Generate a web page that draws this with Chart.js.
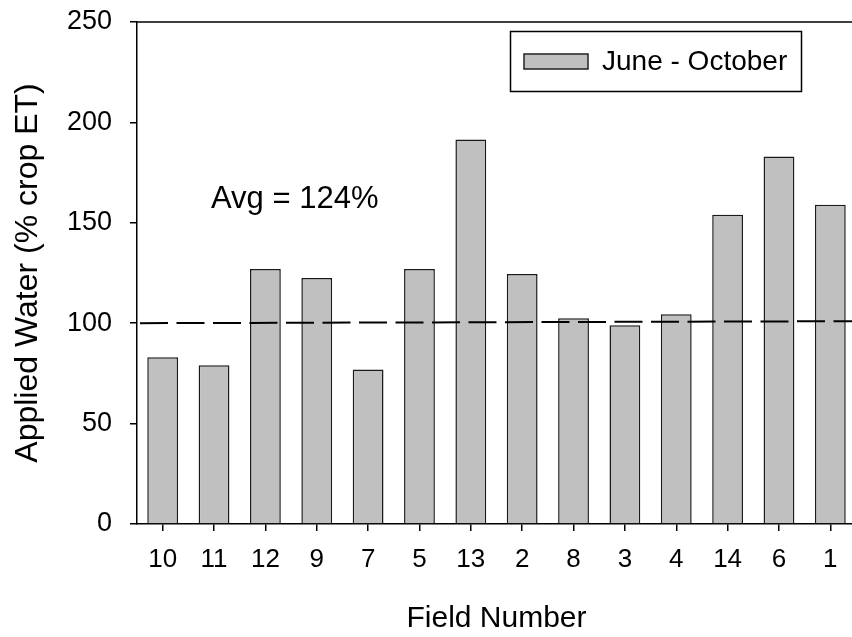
<!DOCTYPE html>
<html>
<head>
<meta charset="utf-8">
<title>Applied Water</title>
<script src="https://cdn.jsdelivr.net/npm/chart.js@4.4.1/dist/chart.umd.min.js"></script>
<style>
    html, body { margin: 0; padding: 0; background: #fff; overflow: hidden; }
    #wrap { width: 852px; height: 637px; overflow: hidden; }
</style>
</head>
<body>
<div id="wrap"><canvas id="myChart" width="880" height="637"></canvas></div>
<script>
(function () {
    'use strict';

    // Chart data
    var fields   = ['10', '11', '12', '9', '7', '5', '13', '2', '8', '3', '4', '14', '6', '1'];
    var applied  = [83, 79, 127, 122.5, 77, 127, 191.5, 124.5, 102.5, 99, 104.5, 154, 183, 159];
    var yTicks   = [0, 50, 100, 150, 200, 250];
    var refLine  = [100, 101];           // dashed line, start / end value
    var avgLabel = 'Avg = 124%';
    var seriesName = 'June - October';

    var FONT = "'Liberation Sans', Arial, sans-serif";

    // frame line, dashed reference, note and boxed legend
    var extras = {
        id: 'extras',
        afterDatasetsDraw: function (chart) {
            var ctx = chart.ctx;
            var area = chart.chartArea;
            var y = chart.scales.y;

            ctx.save();
            ctx.strokeStyle = '#000';
            ctx.lineWidth = 1.5;
            ctx.beginPath();
            ctx.moveTo(area.left, area.top);
            ctx.lineTo(area.right, area.top);
            ctx.stroke();

            ctx.lineWidth = 2;
            ctx.setLineDash([28, 8.5]);
            ctx.beginPath();
            ctx.moveTo(area.left + 3, y.getPixelForValue(refLine[0]));
            ctx.lineTo(area.right, y.getPixelForValue(refLine[1]));
            ctx.stroke();
            ctx.setLineDash([]);

            ctx.fillStyle = '#000';
            ctx.font = '31px ' + FONT;
            ctx.textBaseline = 'alphabetic';
            ctx.textAlign = 'left';
            ctx.fillText(avgLabel, 211, 208);

            // legend
            ctx.lineWidth = 1.5;
            ctx.strokeRect(510.5, 31.5, 291, 60);
            ctx.fillStyle = '#c0c0c0';
            ctx.fillRect(524, 54, 64, 15);
            ctx.strokeStyle = '#222';
            ctx.strokeRect(524, 54, 64, 15);
            ctx.fillStyle = '#000';
            ctx.font = '28px ' + FONT;
            ctx.textBaseline = 'middle';
            ctx.fillText(seriesName, 602, 62);
            ctx.restore();
        }
    };

    var config = {
        type: 'bar',
        data: {
            labels: fields,
            datasets: [{
                label: seriesName,
                data: applied,
                backgroundColor: '#c0c0c0',
                borderColor: '#1a1a1a',
                borderWidth: 1.5,
                barPercentage: 0.6,
                categoryPercentage: 1
            }]
        },
        options: {
            responsive: false,
            animation: false,
            devicePixelRatio: 1,
            layout: { padding: { top: 22, right: 24, left: 0, bottom: 0 } },
            plugins: {
                legend: { display: false },
                tooltip: { enabled: false }
            },
            scales: {
                x: {
                    offset: true,
                    grid: { drawOnChartArea: false, offset: false, tickLength: 7, color: '#000', lineWidth: 1.5 },
                    border: { color: '#000', width: 1.5 },
                    ticks: { color: '#000', padding: 13, font: { family: FONT, size: 26 }, maxRotation: 0, autoSkip: false },
                    title: { display: true, text: 'Field Number', color: '#000', font: { family: FONT, size: 30 }, padding: { top: 0, bottom: 0 } },
                    afterFit: function (s) {
                        s.height = 113;
                        s.paddingLeft = 0;
                        s.paddingRight = 0;
                    }
                },
                y: {
                    min: 0,
                    max: 250,
                    afterBuildTicks: function (s) {
                        s.ticks = yTicks.map(function (v) { return { value: v }; });
                    },
                    grid: { drawOnChartArea: false, tickLength: 7, color: '#000', lineWidth: 1.5 },
                    border: { color: '#000', width: 1.5 },
                    ticks: { color: '#000', padding: 18, font: { family: FONT, size: 27 } },
                    title: { display: true, text: 'Applied Water (% crop ET)', color: '#000', font: { family: FONT, size: 32 }, padding: { top: 9, bottom: 0 } },
                    afterFit: function (s) {
                        s.width = 137;
                        s.paddingTop = 0;
                        s.paddingBottom = 0;
                    }
                }
            }
        },
        plugins: [extras]
    };

    new Chart(document.getElementById('myChart'), config);
}());
</script>
</body>
</html>
